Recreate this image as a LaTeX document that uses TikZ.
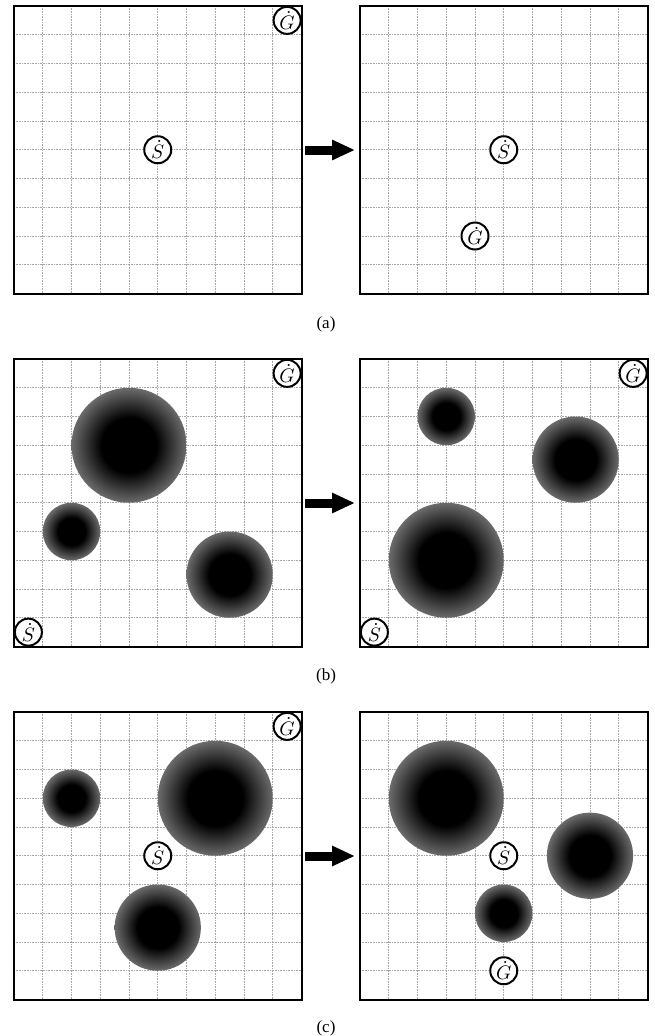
\documentclass[tikz,border=0pt]{standalone}
\usepackage{graphicx}
\usepackage{fontspec}
\newfontfamily\capfont{Liberation Serif}
\usetikzlibrary{arrows.meta}
\pgfdeclareradialshading{ballshade}{\pgfpoint{0bp}{0bp}}{color(0bp)=(black); color(12bp)=(black); color(25bp)=(black!58); color(50bp)=(black!58)}
\tikzset{
  gridline/.style={draw=black!35, line width=0.8pt, dash pattern=on 0.8pt off 0.8pt},
  border/.style={draw=black, line width=2pt},
  agent/.style={circle, draw=black, line width=2pt, fill=white, minimum size=27pt, inner sep=0pt},
  obst/.style={circle, shading=ballshade, inner sep=0pt, draw=none},
  bigarrow/.style={line width=9pt, -{Triangle[length=23pt,width=19pt]}},
  capnode/.style={inner sep=0pt, font=\capfont}
}
\newcommand{\mypanel}{%
  \foreach \k in {1,...,9}{
    \draw[gridline] (\k,0) -- (\k,10);
    \draw[gridline] (0,\k) -- (10,\k);
  }
  \draw[border] (0,0) rectangle (10,10);
}
\newcommand{\lbS}{\scalebox{1.95}{$\dot{S}$}}
\newcommand{\lbG}{\scalebox{1.95}{$\dot{G}$}}
\newcommand{\captxt}[1]{\scalebox{1.7}{#1}}
\begin{document}
\begin{tikzpicture}[x=1pt,y=-1pt]
\useasboundingbox (0,0) rectangle (654,1036);
% ---------- (a) ----------
\begin{scope}[shift={(14,6)}, x=28.75pt, y=-28.75pt]
  \mypanel
  \node[agent] (aLS) at (5,5) {\lbS};
  \node[agent] (aLG) at (9.5,0.5) {\lbG};
\end{scope}
\begin{scope}[shift={(360,6)}, x=28.75pt, y=-28.75pt]
  \mypanel
  \node[agent] (aRS) at (5,5) {\lbS};
  \node[agent] (aRG) at (4,8) {\lbG};
\end{scope}
\coordinate (aA1) at (305,150);
\coordinate (aA2) at (355,150);
\draw[bigarrow] (aA1) -- (aA2);
\node[capnode] (capA) at (326,324) {\captxt{(a)}};
% ---------- (b) ----------
\begin{scope}[shift={(14,359)}, x=28.75pt, y=-28.75pt]
  \mypanel
  \node[obst, minimum size=115pt] (bL1) at (4,3) {};
  \node[obst, minimum size=57.5pt] (bL2) at (2,6) {};
  \node[obst, minimum size=86.25pt] (bL3) at (7.5,7.5) {};
  \node[agent] (bLS) at (0.5,9.5) {\lbS};
  \node[agent] (bLG) at (9.5,0.5) {\lbG};
\end{scope}
\begin{scope}[shift={(360,359)}, x=28.75pt, y=-28.75pt]
  \mypanel
  \node[obst, minimum size=57.5pt] (bR1) at (3,2) {};
  \node[obst, minimum size=86.25pt] (bR2) at (7.5,3.5) {};
  \node[obst, minimum size=115pt] (bR3) at (3,7) {};
  \node[agent] (bRS) at (0.5,9.5) {\lbS};
  \node[agent] (bRG) at (9.5,0.5) {\lbG};
\end{scope}
\coordinate (bA1) at (305,503);
\coordinate (bA2) at (355,503);
\draw[bigarrow] (bA1) -- (bA2);
\node[capnode] (capB) at (326,676) {\captxt{(b)}};
% ---------- (c) ----------
\begin{scope}[shift={(14,712)}, x=28.75pt, y=-28.75pt]
  \mypanel
  \node[obst, minimum size=57.5pt] (cL1) at (2,3) {};
  \node[obst, minimum size=115pt] (cL2) at (7,3) {};
  \node[obst, minimum size=86.25pt] (cL3) at (5,7.5) {};
  \node[agent] (cLS) at (5,5) {\lbS};
  \node[agent] (cLG) at (9.5,0.5) {\lbG};
\end{scope}
\begin{scope}[shift={(360,712)}, x=28.75pt, y=-28.75pt]
  \mypanel
  \node[obst, minimum size=115pt] (cR1) at (3,3) {};
  \node[obst, minimum size=86.25pt] (cR2) at (8,5) {};
  \node[obst, minimum size=57.5pt] (cR3) at (5,7) {};
  \node[agent] (cRS) at (5,5) {\lbS};
  \node[agent] (cRG) at (5,9) {\lbG};
\end{scope}
\coordinate (cA1) at (305,856);
\coordinate (cA2) at (355,856);
\draw[bigarrow] (cA1) -- (cA2);
\node[capnode] (capC) at (326,1028) {\captxt{(c)}};
\end{tikzpicture}
\end{document}
